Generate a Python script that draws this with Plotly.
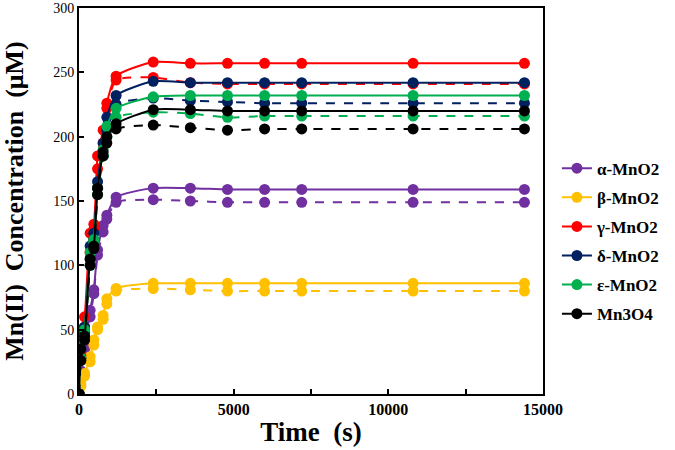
import plotly.graph_objects as go

time_s = [0, 60, 180, 360, 480, 600, 780, 900, 1200, 2400, 3600, 4800, 6000, 7200, 10800, 14400]

names = ["α-MnO2", "β-MnO2", "γ-MnO2", "δ-MnO2", "ε-MnO2", "Mn3O4"]
colors = ["#7030A0", "#FFC000", "#FF0000", "#002060", "#00B050", "#000000"]

alpha_solid = [0, 18, 40, 65, 81, 112, 131, 139, 153, 160, 160, 159, 159, 159, 159, 159]
alpha_dash = [0, 14, 35, 60, 78, 108, 126, 136, 149, 151, 150, 149, 149, 149, 149, 149]
beta_solid = [0, 8, 16, 29, 42, 52, 61, 74, 82, 86, 86, 86, 86, 86, 86, 86]
beta_dash = [0, 6, 14, 25, 38, 50, 58, 70, 80, 82, 81, 80, 80, 80, 80, 80]
gamma_solid = [0, 50, 60, 125, 132, 185, 205, 226, 247, 258, 257, 257, 257, 257, 257, 257]
gamma_dash = [0, 30, 52, 110, 128, 175, 195, 222, 244, 246, 242, 241, 241, 241, 241, 241]
delta_solid = [0, 45, 52, 115, 125, 165, 195, 215, 232, 243, 242, 242, 242, 242, 242, 242]
delta_dash = [0, 28, 48, 105, 120, 160, 185, 205, 225, 230, 228, 227, 226, 226, 226, 226]
eps_solid = [0, 40, 50, 110, 120, 160, 190, 208, 222, 231, 232, 232, 232, 232, 232, 232]
eps_dash = [0, 28, 45, 100, 118, 155, 185, 200, 215, 219, 218, 215, 216, 216, 216, 216]
mn3o4_solid = [0, 35, 45, 105, 115, 160, 188, 200, 210, 221, 221, 220, 220, 220, 220, 220]
mn3o4_dash = [0, 26, 42, 100, 113, 155, 185, 195, 206, 209, 207, 205, 206, 206, 206, 206]

solid = [alpha_solid, beta_solid, gamma_solid, delta_solid, eps_solid, mn3o4_solid]
dashed = [alpha_dash, beta_dash, gamma_dash, delta_dash, eps_dash, mn3o4_dash]

fig = go.Figure()
for i, name in enumerate(names):
    fig.add_trace(go.Scatter(
        x=time_s, y=solid[i], name=name, mode="lines+markers",
        line=dict(color=colors[i], width=2, shape="spline", smoothing=0.6),
        marker=dict(color=colors[i], size=11),
        legendgroup=name, showlegend=True))
    fig.add_trace(go.Scatter(
        x=time_s, y=dashed[i], name=name, mode="lines+markers",
        line=dict(color=colors[i], width=2, dash="dash", shape="spline", smoothing=0.6),
        marker=dict(color=colors[i], size=11),
        legendgroup=name, showlegend=False))

serif = "Liberation Serif"

fig.update_layout(
    width=675, height=450,
    margin=dict(l=79, r=132, t=8, b=56),
    paper_bgcolor="white", plot_bgcolor="white",
    font=dict(family=serif, color="black"),
    showlegend=True,
    legend=dict(x=1.03, y=0.396, xanchor="left", yanchor="middle",
                font=dict(family=serif, size=17, color="black", weight="bold"),
                tracegroupgap=4, traceorder="grouped",
                bgcolor="rgba(0,0,0,0)"),
    xaxis=dict(range=[0, 15000], dtick=5000, tick0=0, tickformat="d",
               ticks="inside", ticklen=5, tickwidth=1.5, tickcolor="black",
               minor=dict(dtick=2500, ticks="inside", ticklen=5, tickwidth=1.5, tickcolor="black"),
               showline=True, linecolor="black", linewidth=2, mirror=True,
               showgrid=False, zeroline=False, automargin=False,
               tickfont=dict(family=serif, size=16, color="black", weight="bold"),
               title=dict(text="<b>Time&nbsp; (s)</b>", font=dict(family=serif, size=27), standoff=5)),
    yaxis=dict(range=[0, 300], dtick=50,
               ticks="inside", ticklen=5, tickwidth=1.5, tickcolor="black",
               showline=True, linecolor="black", linewidth=2, mirror=True,
               showgrid=False, zeroline=False, automargin=False,
               tickfont=dict(family=serif, size=14, color="black"),
               title=dict(text="<b>Mn(II)&nbsp; Concentration&nbsp; (μM)</b>", font=dict(family=serif, size=26), standoff=26)),
)

fig.write_html("out.html", post_script="document.body.style.margin='0';",
               config={"displayModeBar": False})
